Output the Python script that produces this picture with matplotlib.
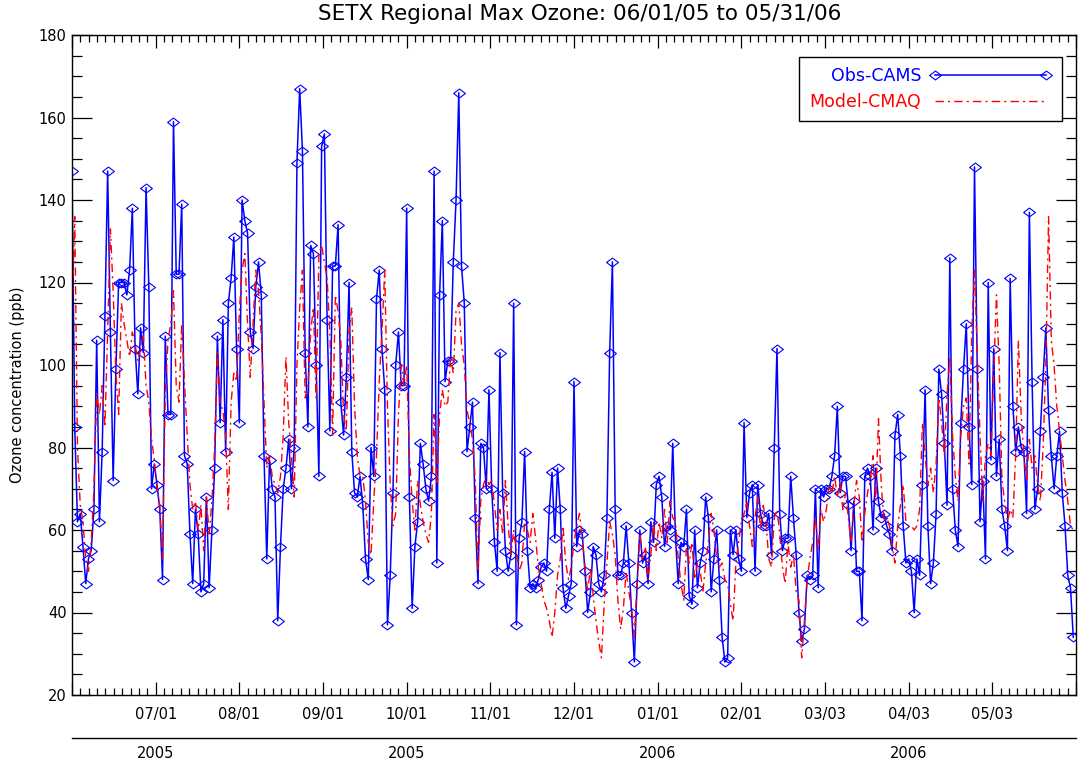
import matplotlib
matplotlib.use("Agg")
import matplotlib.pyplot as plt
import numpy as np
from matplotlib.ticker import MultipleLocator, AutoMinorLocator

# ---------------- data (daily values, day 0 = 06/01/05) ----------------
obs_jun = [147, 85, 62, 64, 56, 47, 53, 55, 65, 106, 62, 79, 112, 147, 108,
           72, 99, 120, 120, 120, 117, 123, 138, 104, 93, 109, 103, 143, 119, 70]
obs_jul = [76, 71, 65, 48, 107, 88, 88, 159, 122, 122, 139, 78, 76, 59, 47, 65,
           59, 45, 47, 68, 46, 60, 75, 107, 86, 111, 79, 115, 121, 131, 104]
obs_aug = [86, 140, 135, 132, 108, 104, 119, 125, 117, 78, 53, 77, 70, 68, 38, 56,
           70, 75, 82, 70, 80, 149, 167, 152, 103, 85, 129, 127, 100, 73, 153]
obs_sep = [156, 111, 84, 124, 124, 134, 91, 83, 97, 120, 79, 69, 68, 73, 66,
           53, 48, 80, 73, 116, 123, 104, 94, 37, 49, 69, 100, 108, 95, 95]
obs_oct = [138, 68, 41, 56, 62, 81, 76, 70, 67, 73, 147, 52, 117, 135, 96, 101,
           101, 125, 140, 166, 124, 115, 79, 85, 91, 63, 47, 81, 80, 70, 94]
obs_nov = [70, 57, 50, 103, 69, 55, 50, 54, 115, 37, 58, 62, 79, 55, 46,
           47, 46, 48, 51, 52, 50, 65, 74, 58, 75, 65, 46, 41, 44, 47]
obs_dec = [96, 56, 60, 59, 50, 40, 45, 56, 54, 47, 45, 49, 63, 103, 125, 65,
           49, 49, 52, 61, 52, 40, 28, 47, 60, 52, 54, 47, 62, 57, 71]
obs_jan = [73, 68, 56, 61, 60, 81, 58, 47, 57, 56, 65, 44, 42, 60, 46, 52,
           55, 68, 63, 45, 53, 60, 48, 34, 28, 29, 60, 54, 60, 53, 50]
obs_feb = [86, 63, 69, 71, 50, 71, 64, 61, 61, 64, 54, 80, 104, 64, 55, 58,
           58, 73, 63, 54, 40, 33, 36, 49, 48, 49, 70, 46]
obs_mar = [70, 68, 70, 70, 73, 78, 90, 69, 73, 73, 66, 55, 67, 50, 50, 38,
           73, 75, 73, 60, 75, 67, 63, 64, 61, 59, 55, 83, 88, 78, 61]
obs_apr = [52, 53, 50, 40, 53, 49, 71, 94, 61, 47, 52, 64, 99, 93, 81, 66,
           126, 70, 60, 56, 86, 99, 110, 85, 71, 148, 99, 62, 72, 53]
obs_may = [120, 77, 104, 73, 82, 65, 61, 55, 121, 90, 79, 85, 80, 79, 64, 137,
           96, 65, 70, 84, 97, 109, 89, 78, 70, 78, 84, 69, 61, 49, 46, 34]

mod_jun = [112, 136, 80, 66, 62, 53, 50, 57, 70, 93, 88, 95, 85, 108, 133,
           118, 98, 88, 115, 110, 106, 102, 108, 105, 101, 104, 107, 95, 91, 82]
mod_jul = [77, 70, 66, 53, 93, 106, 110, 118, 95, 91, 110, 96, 83, 71, 65, 67,
           60, 66, 55, 68, 59, 67, 80, 103, 91, 89, 83, 65, 91, 98, 96]
mod_aug = [113, 123, 127, 110, 97, 110, 123, 118, 107, 91, 75, 78, 73, 71, 69, 73,
           83, 102, 86, 78, 68, 100, 114, 123, 92, 95, 108, 114, 92, 127, 129]
mod_sep = [125, 121, 108, 83, 117, 113, 106, 88, 84, 108, 114, 90, 78, 73, 73,
           67, 57, 54, 67, 78, 96, 108, 123, 90, 71, 61, 64, 88, 100, 95]
mod_oct = [100, 78, 67, 60, 72, 66, 62, 59, 57, 64, 88, 71, 88, 94, 90, 91,
           102, 98, 113, 115, 105, 100, 89, 86, 82, 72, 50, 67, 71, 73, 71]
mod_nov = [72, 66, 60, 65, 59, 72, 61, 54, 60, 55, 50, 52, 62, 60, 57,
           64, 58, 51, 47, 43, 41, 38, 34, 40, 49, 53, 61, 52, 48, 51]
mod_dec = [57, 61, 64, 58, 51, 45, 51, 44, 38, 33, 29, 42, 52, 62, 59, 54,
           43, 36, 41, 50, 45, 41, 34, 47, 59, 53, 56, 48, 54, 62, 55]
mod_jan = [62, 58, 65, 57, 67, 63, 62, 53, 47, 43, 56, 52, 57, 48, 52, 50,
           45, 52, 57, 64, 60, 53, 51, 52, 48, 47, 42, 38, 52, 57, 62]
mod_feb = [64, 67, 61, 56, 63, 68, 60, 66, 62, 53, 51, 63, 65, 59, 51, 47,
           57, 51, 54, 45, 43, 29, 38, 48, 53, 57, 63, 55]
mod_mar = [65, 62, 65, 71, 69, 73, 68, 72, 65, 69, 63, 57, 66, 72, 68, 57,
           64, 69, 72, 78, 67, 87, 71, 62, 63, 61, 56, 52, 61, 66, 71]
mod_apr = [62, 61, 61, 60, 61, 65, 86, 78, 71, 75, 69, 76, 92, 86, 78, 93,
           102, 83, 73, 67, 83, 90, 92, 76, 108, 123, 103, 83, 67, 78]
mod_may = [81, 78, 98, 117, 100, 72, 67, 62, 65, 63, 78, 106, 88, 78, 72, 82,
           75, 78, 71, 67, 80, 100, 136, 106, 100, 90, 84, 78, 72, 67, 61, 60]

obs = (obs_jun + obs_jul + obs_aug + obs_sep + obs_oct + obs_nov + obs_dec +
       obs_jan + obs_feb + obs_mar + obs_apr + obs_may)
model = (mod_jun + mod_jul + mod_aug + mod_sep + mod_oct + mod_nov + mod_dec +
         mod_jan + mod_feb + mod_mar + mod_apr + mod_may)
days = np.arange(len(obs))

date_labels = ['07/01', '08/01', '09/01', '10/01', '11/01', '12/01',
               '01/01', '02/01', '03/03', '04/03', '05/03']
year_labels = ['2005', '2005', '2006', '2006']

# ---------------- figure ----------------
W, H = 1078, 765
fig = plt.figure(figsize=(W / 100, H / 100), dpi=100)
ax = fig.add_axes([72 / W, 1 - 695 / H, 1004 / W, 660 / H])

diamond = [(-1, 0), (0, 0.75), (1, 0), (0, -0.75), (-1, 0)]
ax.plot(days, obs, color='#0000ff', lw=1.1, marker=diamond, ms=8.5,
        mfc='none', mec='#0000ff', mew=0.8, label='Obs-CAMS')
ax.plot(days, model, color='#ff0000', lw=1.0, dashes=(6, 3, 1.5, 3),
        label='Model-CMAQ')

step = 366 / 12
ax.set_xlim(0, 366)
ax.set_ylim(20, 180)
ax.set_xticks([step * i for i in range(13)])
ax.set_xticklabels([''] + date_labels + [''])
ax.xaxis.set_minor_locator(AutoMinorLocator(10))
ax.yaxis.set_major_locator(MultipleLocator(20))
ax.yaxis.set_minor_locator(MultipleLocator(5))
ax.tick_params(which='both', direction='in', top=True, right=True,
               width=0.9, labelsize=10.5, colors='black')
ax.tick_params(axis='x', which='major', length=9.5, pad=9)
ax.tick_params(axis='x', which='minor', length=4.8)
ax.tick_params(axis='y', which='major', length=14.4, pad=4)
ax.tick_params(axis='y', which='minor', length=7.2)
for s in ax.spines.values():
    s.set_linewidth(1.0)

# second date level (years)
sec = ax.secondary_xaxis(-0.065)
sec.set_xticks([step * 1, step * 4, step * 7, step * 10])
sec.set_xticklabels(year_labels)
sec.tick_params(length=0, pad=6, labelsize=10.5)
sec.spines['bottom'].set_linewidth(1.0)

leg = ax.legend(loc='upper right', bbox_to_anchor=(0.986, 0.967),
                markerfirst=False, numpoints=2, handlelength=7.0,
                fontsize=12.5, frameon=True, fancybox=False, framealpha=1,
                edgecolor='black', borderpad=0.6, labelspacing=0.45,
                handletextpad=0.5, borderaxespad=0)
leg.get_frame().set_linewidth(1.0)
for txt, c in zip(leg.get_texts(), ['#0000ff', '#ff0000']):
    txt.set_color(c)

fig.text(580 / W, 1 - 14 / H, 'SETX Regional Max Ozone: 06/01/05 to 05/31/06',
         ha='center', va='center', fontsize=15.5)
fig.text(18 / W, 1 - 385 / H, 'Ozone concentration (ppb)', rotation=90,
         ha='center', va='center', fontsize=10.5)

fig.savefig('out.png', dpi=100)
